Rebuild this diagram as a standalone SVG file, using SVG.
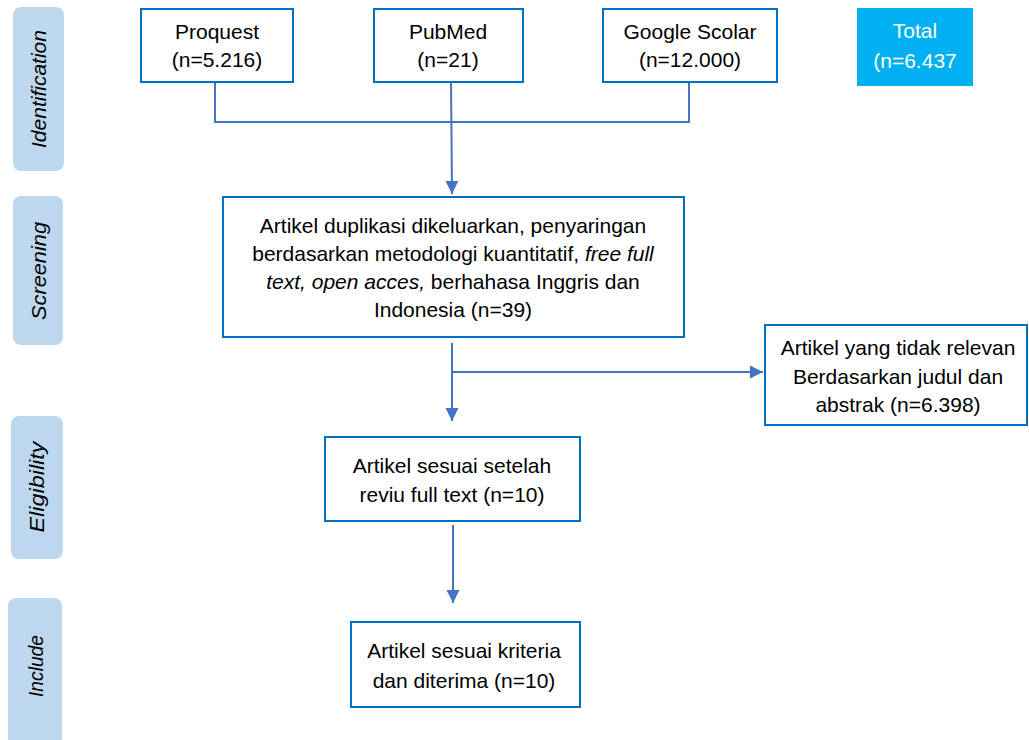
<svg xmlns="http://www.w3.org/2000/svg" width="1029" height="740" viewBox="0 0 1029 740">
<style>
.lane{fill:#BDD7EE;}
.lt{font-family:"Liberation Sans",Arial,sans-serif;font-size:20px;font-style:italic;fill:#000;text-anchor:middle;}
.box{fill:#fff;stroke:#0070C0;stroke-width:2;}
.t{font-family:"Liberation Sans",Arial,sans-serif;font-size:21px;fill:#000;text-anchor:middle;}
.tw{font-family:"Liberation Sans",Arial,sans-serif;font-size:21px;fill:#fff;text-anchor:middle;}
.i{font-style:italic;}
.c{fill:none;stroke:#4472C4;stroke-width:2;}
</style>
<defs>
<marker id="ah" markerUnits="userSpaceOnUse" markerWidth="14" markerHeight="14" viewBox="0 0 14 14" refX="13" refY="7" orient="auto">
<path d="M0,0.5 L13,7 L0,13.5 Z" fill="#4472C4"/>
</marker>
</defs>
<rect width="1029" height="740" fill="#fff"/>
<g id="lane-identification">
<rect class="lane" x="13" y="7" width="51" height="164" rx="8"/>
<text class="lt" transform="translate(45.5,89) rotate(-90)" textLength="118" lengthAdjust="spacingAndGlyphs">Identification</text>
</g>
<g id="lane-screening">
<rect class="lane" x="13" y="196" width="50" height="149" rx="8"/>
<text class="lt" transform="translate(46,271) rotate(-90)" textLength="98" lengthAdjust="spacingAndGlyphs">Screening</text>
</g>
<g id="lane-eligibility">
<rect class="lane" x="11" y="416" width="52" height="143" rx="8"/>
<text class="lt" transform="translate(44,487) rotate(-90)" textLength="91" lengthAdjust="spacingAndGlyphs">Eligibility</text>
</g>
<g id="lane-include">
<rect class="lane" x="8" y="598" width="54" height="150" rx="8"/>
<text class="lt" transform="translate(42.5,666) rotate(-90)" textLength="62" lengthAdjust="spacingAndGlyphs">Include</text>
</g>
<g id="connectors">
<polyline class="c" points="215,82 215,122 689,122 689,82"/>
<line class="c" x1="451" y1="82" x2="452" y2="194" marker-end="url(#ah)"/>
<line class="c" x1="452" y1="343" x2="452" y2="421" marker-end="url(#ah)"/>
<line class="c" x1="452" y1="372" x2="763" y2="372" marker-end="url(#ah)"/>
<line class="c" x1="453" y1="525" x2="453" y2="603" marker-end="url(#ah)"/>
</g>
<g id="proquest">
<rect class="box" x="141" y="9" width="152" height="73"/>
<text class="t" x="217" y="39">Proquest</text>
<text class="t" x="217" y="67">(n=5.216)</text>
</g>
<g id="pubmed">
<rect class="box" x="374" y="9" width="149" height="73"/>
<text class="t" x="448" y="39">PubMed</text>
<text class="t" x="448" y="67">(n=21)</text>
</g>
<g id="google">
<rect class="box" x="603" y="9" width="174" height="73"/>
<text class="t" x="690" y="39">Google Scolar</text>
<text class="t" x="690" y="67">(n=12.000)</text>
</g>
<g id="total">
<rect x="857" y="8" width="116" height="78" fill="#00B0F0"/>
<text class="tw" x="915" y="38">Total</text>
<text class="tw" x="915" y="68">(n=6.437</text>
</g>
<g id="screening">
<rect class="box" x="223" y="197" width="461" height="140"/>
<text class="t" x="453" y="233">Artikel duplikasi dikeluarkan, penyaringan</text>
<text class="t" x="453" y="261">berdasarkan metodologi kuantitatif, <tspan class="i">free full</tspan></text>
<text class="t" x="453" y="289"><tspan class="i">text, open acces,</tspan> berhahasa Inggris dan</text>
<text class="t" x="453" y="317">Indonesia (n=39)</text>
</g>
<g id="excluded">
<rect class="box" x="765" y="325" width="262" height="100"/>
<text class="t" x="898" y="355">Artikel yang tidak relevan</text>
<text class="t" x="898" y="384">Berdasarkan judul dan</text>
<text class="t" x="898" y="412">abstrak (n=6.398)</text>
</g>
<g id="eligibility">
<rect class="box" x="325" y="437" width="255" height="84"/>
<text class="t" x="452" y="473">Artikel sesuai setelah</text>
<text class="t" x="452" y="502">reviu full text (n=10)</text>
</g>
<g id="include">
<rect class="box" x="351" y="622" width="229" height="85"/>
<text class="t" x="464" y="658">Artikel sesuai kriteria</text>
<text class="t" x="464" y="688">dan diterima (n=10)</text>
</g>
</svg>
